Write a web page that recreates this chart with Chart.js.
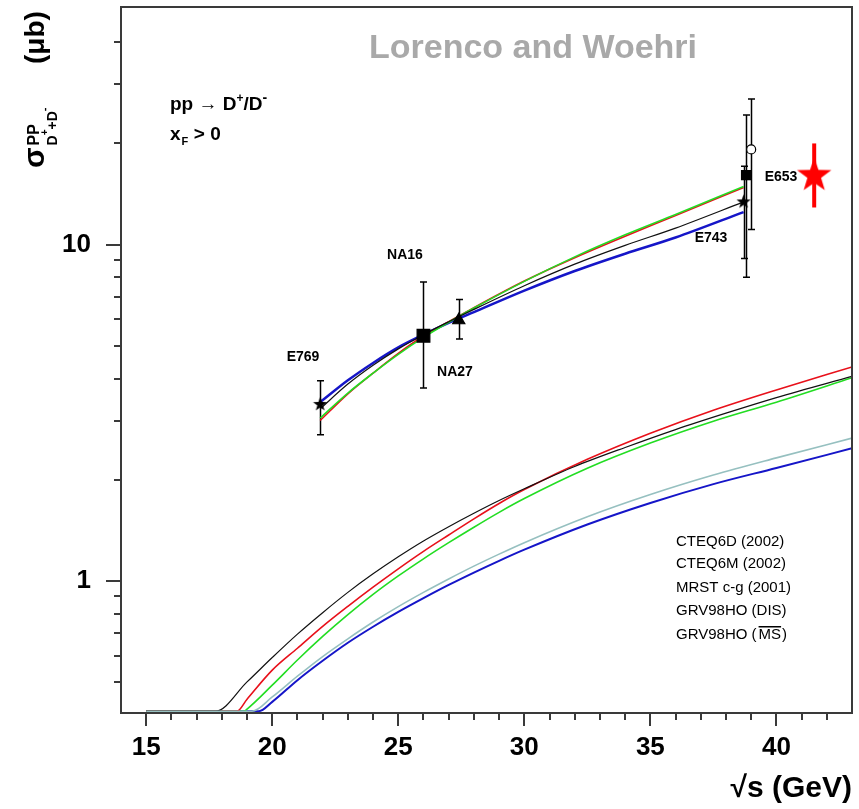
<!DOCTYPE html>
<html>
<head>
<meta charset="utf-8">
<script src="https://cdn.jsdelivr.net/npm/chart.js@4.4.0/dist/chart.umd.min.js"></script>
<style>
    html, body { margin: 0; padding: 0; background: #fff; }
</style>
</head>
<body>
<canvas id="chartSigma" width="859" height="809"></canvas>
<script>
// axis ticks
const xTickVals = [15, 16, 17, 18, 19, 20, 21, 22, 23, 24, 25, 26, 27, 28, 29, 30, 31, 32, 33, 34, 35, 36, 37, 38, 39, 40, 41, 42];
const xTickLabels = [15, 20, 25, 30, 35, 40];
const yTickVals = [0.5, 0.6, 0.7, 0.8, 0.9, 1, 2, 3, 4, 5, 6, 7, 8, 9, 10, 20, 30, 40];
const yTickLabels = [1, 10];

// lower band (absolute NLO curves); the first two points sit on the axis floor (clipped part)
const lowBlackX = [15, 17.75, 19, 20, 21, 22, 23, 24, 25, 26, 27, 28, 29, 30, 32, 34, 36, 38, 40, 43];
const lowBlackY = [0.41, 0.41, 0.501, 0.592, 0.695, 0.805, 0.925, 1.05, 1.18, 1.315, 1.45, 1.59, 1.735, 1.88, 2.19, 2.495, 2.82, 3.155, 3.51, 4.06];
const lowRedX = [15, 18.6, 19, 20, 21, 22, 23, 24, 25, 26, 27, 28, 29, 30, 32.5, 35, 37.5, 40, 43];
const lowRedY = [0.41, 0.41, 0.445, 0.543, 0.631, 0.733, 0.841, 0.959, 1.087, 1.225, 1.37, 1.53, 1.70, 1.87, 2.30, 2.75, 3.22, 3.70, 4.33];
const lowGreenX = [15, 18.87, 19, 20, 21, 22, 23, 24, 25, 26, 27, 28, 29, 30, 32.5, 35, 37.5, 40, 43];
const lowGreenY = [0.41, 0.41, 0.416, 0.49, 0.582, 0.684, 0.794, 0.912, 1.035, 1.164, 1.30, 1.445, 1.60, 1.758, 2.163, 2.57, 2.985, 3.40, 4.02];
const lowTealX = [15, 19.2, 20, 21, 22, 23, 24, 25, 26, 27, 28, 29, 30, 32.5, 35, 37.5, 40, 43];
const lowTealY = [0.41, 0.41, 0.452, 0.521, 0.596, 0.673, 0.755, 0.839, 0.925, 1.014, 1.107, 1.202, 1.30, 1.552, 1.807, 2.065, 2.323, 2.66];
const lowBlueX = [15, 19.47, 20, 21, 22, 23, 24, 25, 26, 27, 28, 29, 30, 32.5, 35, 37.5, 40, 43];
const lowBlueY = [0.41, 0.41, 0.437, 0.507, 0.579, 0.655, 0.731, 0.809, 0.889, 0.973, 1.059, 1.148, 1.239, 1.472, 1.706, 1.941, 2.168, 2.48];

// upper band (curves normalised to the data)
const upX = [21.9, 23, 24, 25, 26, 27, 28, 30, 32, 34, 36, 38.7];
const upRed = [3.0, 3.6, 4.15, 4.75, 5.35, 5.9, 6.5, 7.8, 9.15, 10.6, 12.2, 14.8];
const upGreen = [3.05, 3.62, 4.15, 4.72, 5.3, 5.88, 6.48, 7.78, 9.2, 10.7, 12.3, 14.9];
const upBlack = [3.25, 3.85, 4.38, 4.9, 5.4, 5.9, 6.42, 7.55, 8.75, 9.95, 11.2, 13.4];
const upBlue = [3.4, 3.95, 4.45, 4.95, 5.4, 5.85, 6.3, 7.3, 8.35, 9.4, 10.5, 12.5];

// measurements
const expNames = ["E769", "NA16", "NA27", "E743", "E653", "E653 (open)"];
const expX = [21.9, 26.0, 27.4, 38.7, 38.8, 39.0];
const expY = [3.35, 5.36, 5.96, 13.4, 16.1, 19.2];
const expLo = [2.72, 3.75, 5.24, 9.1, 8.0, 11.1];
const expHi = [3.94, 7.74, 6.87, 17.1, 24.3, 27.1];

// new point (red star)
const newX = [41.5];
const newY = [16.05];
const newLo = [12.9];
const newHi = [20.0];

const legendLines = ["CTEQ6D (2002)", "CTEQ6M (2002)", "MRST c-g (2001)", "GRV98HO (DIS)", "GRV98HO ("];

const FONT = '"Liberation Sans", Arial, Helvetica, sans-serif';

function makeStar(R, color) {
    const c = document.createElement("canvas");
    c.width = c.height = Math.ceil(2 * R + 2);
    const g = c.getContext("2d");
    const cx = c.width / 2, cy = c.height / 2, r = R * 0.4;
    g.beginPath();
    for (let i = 0; i < 10; i++) {
        const a = -Math.PI / 2 + i * Math.PI / 5;
        const rr = i % 2 === 0 ? R : r;
        g.lineTo(cx + rr * Math.cos(a), cy + rr * Math.sin(a));
    }
    g.closePath();
    g.fillStyle = color;
    g.fill();
    return c;
}

const pts = (xs, ys) => xs.map((x, i) => ({ x, y: ys[i] }));

function curve(label, xs, ys, color, width, order) {
    return {
        label, data: pts(xs, ys), borderColor: color, borderWidth: width,
        pointRadius: 0, fill: false, cubicInterpolationMode: "monotone", order
    };
}

const smallStar = makeStar(7.5, "#000");
const expStyles = [smallStar, "rect", "triangle", smallStar, "rect", "circle"];
const expRadius = [7.5, 9, 7, 7.5, 6.5, 4.5];
const expFill = ["#000", "#000", "#000", "#000", "#000", "#fff"];

const datasets = [];
expX.forEach((x, i) => {
    datasets.push({
        label: expNames[i], data: [{ x, y: expY[i] }], showLine: false,
        pointStyle: expStyles[i], pointRadius: expRadius[i],
        backgroundColor: expFill[i], borderColor: "#000", borderWidth: 1.2, order: 0
    });
});
datasets.push({
    label: "new", data: pts(newX, newY), showLine: false,
    pointStyle: makeStar(18, "#ff0000"), pointRadius: 18, order: 0
});
datasets.push(curve("up black", upX, upBlack, "#111", 1.2, 1));
datasets.push(curve("up green", upX, upGreen, "#22dd22", 1.6, 1));
datasets.push(curve("up red", upX, upRed, "#e8101a", 1.6, 1));
datasets.push(curve("up blue", upX, upBlue, "#1515c8", 2.5, 1));
// teal drawn above the rest of the lower band so the clipped floor segment shows teal
datasets.push(curve("low teal", lowTealX, lowTealY, "#96c0c0", 1.6, 1.5));
datasets.push(curve("low black", lowBlackX, lowBlackY, "#111", 1.2, 2));
datasets.push(curve("low red", lowRedX, lowRedY, "#e8101a", 1.6, 2));
datasets.push(curve("low green", lowGreenX, lowGreenY, "#22dd22", 1.6, 2));
datasets.push(curve("low blue", lowBlueX, lowBlueY, "#1515c8", 2, 2));

const drawPlot = {
    id: "drawPlot",
    beforeDatasetsDraw(chart) {
        const { ctx, scales: { x, y } } = chart;
        ctx.save();
        ctx.strokeStyle = "#000";
        ctx.lineWidth = 1.5;
        expX.forEach((v, i) => {
            const px = Math.round(x.getPixelForValue(v)) + 0.5;
            const top = y.getPixelForValue(expHi[i]);
            const bot = y.getPixelForValue(expLo[i]);
            ctx.beginPath();
            ctx.moveTo(px, top); ctx.lineTo(px, bot);
            ctx.moveTo(px - 3.5, top); ctx.lineTo(px + 3.5, top);
            ctx.moveTo(px - 3.5, bot); ctx.lineTo(px + 3.5, bot);
            ctx.stroke();
        });
        ctx.strokeStyle = "#ff0000";
        ctx.lineWidth = 4;
        newX.forEach((v, i) => {
            const px = x.getPixelForValue(v);
            ctx.beginPath();
            ctx.moveTo(px, y.getPixelForValue(newHi[i]));
            ctx.lineTo(px, y.getPixelForValue(newLo[i]));
            ctx.stroke();
        });
        ctx.restore();
    },
    afterDraw(chart) {
        const { ctx, chartArea: a, scales: { x, y } } = chart;
        ctx.save();
        // frame
        ctx.strokeStyle = "#3a3a3a";
        ctx.lineWidth = 2;
        ctx.strokeRect(a.left, a.top, a.right - a.left, a.bottom - a.top);
        // ticks
        ctx.beginPath();
        xTickVals.forEach(v => {
            const px = Math.round(x.getPixelForValue(v));
            const len = xTickLabels.includes(v) ? 13 : 7;
            ctx.moveTo(px, a.bottom); ctx.lineTo(px, a.bottom + len);
        });
        yTickVals.forEach(v => {
            const py = Math.round(y.getPixelForValue(v));
            const len = yTickLabels.includes(v) ? 15 : 7;
            ctx.moveTo(a.left, py); ctx.lineTo(a.left - len, py);
        });
        ctx.stroke();

        ctx.fillStyle = "#000";
        ctx.textBaseline = "alphabetic";

        // y axis title: sigma^PP_{D+ + D-} (mu b)
        ctx.save();
        ctx.translate(44, 168);
        ctx.rotate(-Math.PI / 2);
        ctx.textAlign = "left";
        ctx.font = "bold 30px " + FONT;
        ctx.fillText("σ", 0, 0);
        let sx = ctx.measureText("σ").width + 2;
        ctx.font = "bold 16px " + FONT;
        ctx.fillText("PP", sx, -5);
        let bx = sx;
        const sub = [["D", 14, 13], ["+", 10, 4], ["+D", 14, 13], ["-", 11, 4]];
        sub.forEach(([t, fs, dy]) => {
            ctx.font = "bold " + fs + "px " + FONT;
            ctx.fillText(t, bx, dy);
            bx += ctx.measureText(t).width;
        });
        ctx.font = "bold 28px " + FONT;
        ctx.fillText("(μb)", 104, 0);
        ctx.restore();

        // watermark
        ctx.textAlign = "center";
        ctx.fillStyle = "#a9a9a9";
        ctx.font = "bold 34px " + FONT;
        ctx.fillText("Lorenco and Woehri", 533, 58);

        // process text
        ctx.fillStyle = "#000";
        ctx.textAlign = "left";
        let tx = 170;
        const proc = [["pp → D", 19, 0], ["+", 12, -8], ["/D", 19, 0], ["-", 14, -8]];
        proc.forEach(([t, fs, dy]) => {
            ctx.font = "bold " + fs + "px " + FONT;
            ctx.fillText(t, tx, 110 + dy);
            tx += ctx.measureText(t).width;
        });
        ctx.font = "bold 19px " + FONT;
        ctx.fillText("x", 170, 140);
        let xw = ctx.measureText("x").width;
        ctx.font = "bold 11px " + FONT;
        ctx.fillText("F", 170 + xw + 1, 145);
        ctx.font = "bold 19px " + FONT;
        ctx.fillText(" > 0", 170 + xw + 8, 140);

        // experiment labels
        ctx.font = "bold 14px " + FONT;
        ctx.textAlign = "center";
        ctx.textBaseline = "middle";
        [["NA16", 405, 255], ["E769", 303, 357], ["NA27", 455, 372], ["E743", 711, 238], ["E653", 781, 177]]
            .forEach(([t, lx, ly]) => ctx.fillText(t, lx, ly));

        // PDF list
        ctx.textAlign = "left";
        ctx.textBaseline = "middle";
        ctx.font = "15px " + FONT;
        const ly0 = [542, 564, 588, 611, 635];
        legendLines.forEach((t, i) => ctx.fillText(t, 676, ly0[i]));
        let lw = ctx.measureText(legendLines[4]).width + 676 + 2;
        const msw = ctx.measureText("MS").width;
        ctx.fillText("MS", lw, 635);
        ctx.fillRect(lw, 626, msw, 1.5);
        ctx.fillText(")", lw + msw + 1, 635);

        ctx.restore();
    }
};

const ctx = document.getElementById("chartSigma").getContext("2d");
new Chart(ctx, {
    type: "line",
    data: { datasets },
    options: {
        responsive: false,
        devicePixelRatio: 1,
        animation: false,
        layout: { autoPadding: false, padding: { left: 0, right: 7, top: 7, bottom: 0 } },
        plugins: { legend: { display: false }, tooltip: { enabled: false } },
        scales: {
            x: {
                type: "linear", min: 14, max: 43,
                grid: { display: false, drawTicks: false },
                border: { display: false },
                ticks: {
                    autoSkip: false, maxRotation: 0, padding: 19, color: "#000",
                    font: { family: FONT, size: 26, weight: "bold" },
                    callback: v => xTickLabels.includes(v) ? String(v) : ""
                },
                title: {
                    display: true, text: "√s (GeV)", align: "end", color: "#000",
                    font: { family: FONT, size: 30, weight: "bold" },
                    padding: { top: 0, bottom: 2 }
                },
                afterBuildTicks: s => { s.ticks = xTickVals.map(v => ({ value: v })); },
                afterFit: s => { s.height = 96; s.paddingLeft = 0; s.paddingRight = 0; }
            },
            y: {
                type: "logarithmic", min: 0.405, max: 50.9,
                grid: { display: false, drawTicks: false },
                border: { display: false },
                ticks: {
                    autoSkip: false, padding: 30, color: "#000",
                    font: { family: FONT, size: 26, weight: "bold" },
                    callback: v => yTickLabels.includes(v) ? String(v) : ""
                },
                afterBuildTicks: s => { s.ticks = yTickVals.map(v => ({ value: v })); },
                afterFit: s => { s.width = 121; s.paddingTop = 0; s.paddingBottom = 0; }
            }
        }
    },
    plugins: [drawPlot]
});
</script>
</body>
</html>
